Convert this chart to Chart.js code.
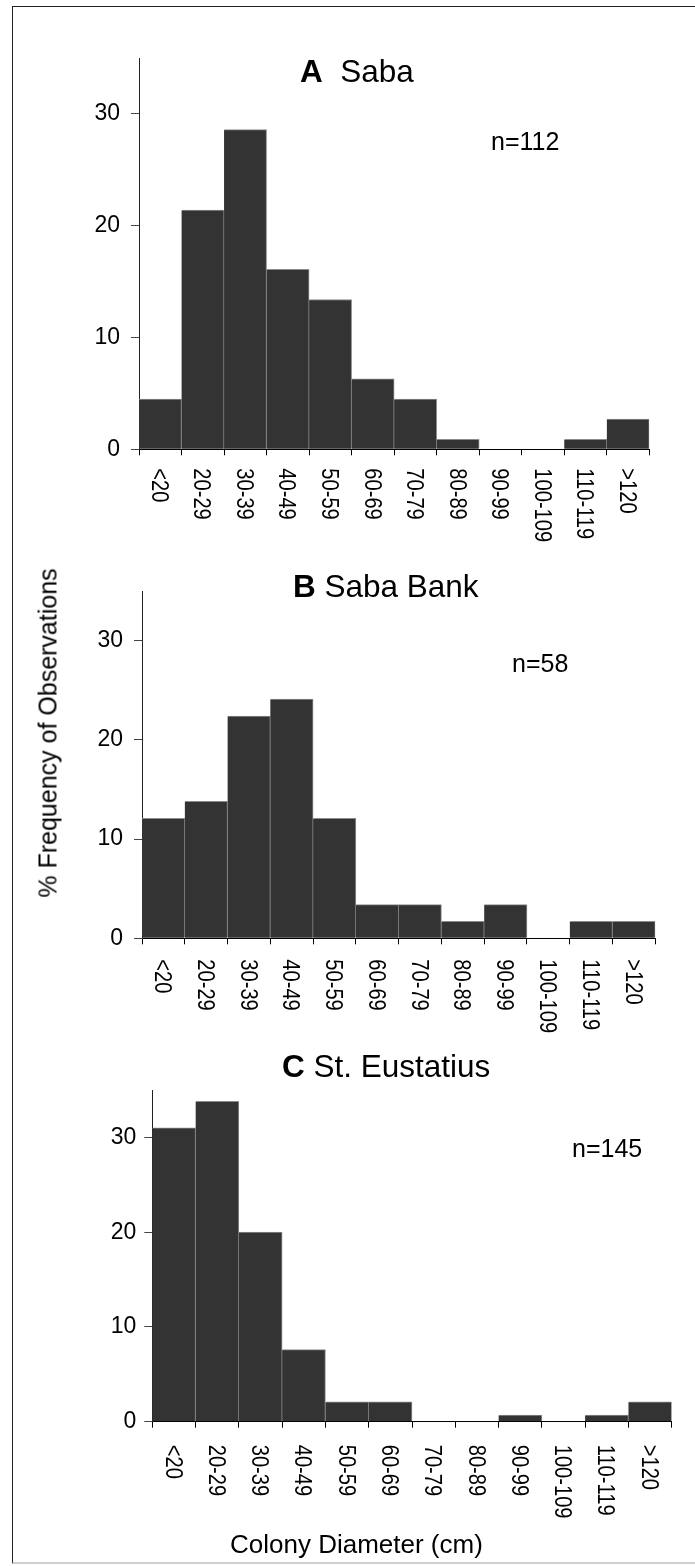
<!DOCTYPE html>
<html>
<head>
<meta charset="utf-8">
<script src="https://cdn.jsdelivr.net/npm/chart.js@4.4.1/dist/chart.umd.min.js"></script>
<style>
  html, body { margin: 0; padding: 0; background: #fff; }
  body {
    width: 695px; height: 1566px; position: relative; overflow: hidden;
    font-family: "Liberation Sans", Arial, sans-serif; color: #000;
  }
  .frame {
    position: absolute; left: 12px; top: 6px; width: 700px; height: 1555px;
    border-left: 1px solid #222; border-top: 1px solid #222; border-bottom: 2px solid #cfcfcf;
  }
  canvas { position: absolute; left: 0; }
  .txt { position: absolute; white-space: nowrap; line-height: 1; }
  .ttl { font-size: 31.5px; }
  .n { font-size: 25px; }
  .ytitle {
    font-size: 25px; left: 48px; top: 733px;
    transform: translate(-50%, -50%) rotate(-90deg);
  }
  .xtitle { font-size: 26px; left: 230px; top: 1531px; }
</style>
</head>
<body>
<div class="frame"></div>

<canvas id="chartA"></canvas>
<canvas id="chartB"></canvas>
<canvas id="chartC"></canvas>

<!-- titoli e annotazioni -->
<div class="txt ttl" style="left:300px;top:56.3px"><b>A</b>&nbsp;&nbsp;Saba</div>
<div class="txt n" style="left:491px;top:128.8px">n=112</div>
<div class="txt ttl" style="left:293px;top:570.6px"><b>B</b> Saba Bank</div>
<div class="txt n" style="left:512px;top:650.5px">n=58</div>
<div class="txt ttl" style="left:282px;top:1050.6px"><b>C</b> St. Eustatius</div>
<div class="txt n" style="left:572px;top:1135.5px">n=145</div>
<div class="txt ytitle">% Frequency of Observations</div>
<div class="txt xtitle">Colony Diameter (cm)</div>

<script>
// size classes (cm)
const sizeClasses = ['<20', '20-29', '30-39', '40-49', '50-59', '60-69',
                     '70-79', '80-89', '90-99', '100-109', '110-119', '>120'];

// % frequency per site
const sabaPct      = [4.5, 21.4, 28.6, 16.1, 13.4, 6.3, 4.5, 0.9, 0, 0, 0.9, 2.7];
const sabaBankPct  = [12.1, 13.8, 22.4, 24.1, 12.1, 3.4, 3.4, 1.7, 3.4, 0, 1.7, 1.7];
const eustatiusPct = [31.0, 33.8, 20.0, 7.6, 2.1, 2.1, 0, 0, 0.7, 0, 0.7, 2.1];

const yTicks = [0, 10, 20, 30];
const yMax = 35;

const FONT = '"Liberation Sans", Arial, sans-serif';

// x labels rotated clockwise (Chart.js only rotates the other way)
const verticalTicks = {
  id: 'verticalTicks',
  afterDraw(chart, args, opts) {
    const xs = chart.scales.x;
    const ctx = chart.ctx;
    ctx.save();
    ctx.fillStyle = '#000';
    ctx.font = '23px ' + FONT;
    ctx.textAlign = 'left';
    ctx.textBaseline = 'middle';
    chart.data.labels.forEach((lab, i) => {
      ctx.save();
      ctx.translate(xs.getPixelForValue(i) - 2, chart.chartArea.bottom + opts.gap);
      ctx.rotate(Math.PI / 2);
      ctx.scale(0.875, 1);
      ctx.fillText(lab, 0, 0);
      ctx.restore();
    });
    ctx.restore();
  }
};

const panels = [
  { id: 'chartA', values: sabaPct, top: 0, height: 560,
    area: { left: 139, right: 649.3, top: 58, bottom: 449.3 }, tickPad: 11, gap: 19 },
  { id: 'chartB', values: sabaBankPct, top: 560, height: 480,
    area: { left: 142, right: 655.3, top: 591, bottom: 938.3 }, tickPad: 11, gap: 21 },
  { id: 'chartC', values: eustatiusPct, top: 1040, height: 526,
    area: { left: 152.3, right: 671.7, top: 1090, bottom: 1421.7 }, tickPad: 8, gap: 23 },
];

const X_AXIS_H = 8;

panels.forEach((p) => {
  const canvas = document.getElementById(p.id);
  canvas.width = 695;
  canvas.height = p.height;
  canvas.style.top = p.top + 'px';

  new Chart(canvas, {
    type: 'bar',
    data: {
      labels: sizeClasses,
      datasets: [{
        data: p.values,
        backgroundColor: '#333333',
        borderColor: '#8c8c8c',
        borderWidth: { top: 1, right: 1, left: 0, bottom: 0 },
        borderSkipped: 'bottom',
        barPercentage: 1,
        categoryPercentage: 1,
      }],
    },
    options: {
      responsive: false,
      animation: false,
      devicePixelRatio: 1,
      layout: {
        padding: {
          left: 0,
          right: 695 - p.area.right,
          top: p.area.top - p.top,
          bottom: p.top + p.height - p.area.bottom - X_AXIS_H,
        },
      },
      plugins: {
        legend: { display: false },
        tooltip: { enabled: false },
        verticalTicks: { gap: p.gap },
      },
      scales: {
        x: {
          grid: { offset: true, drawOnChartArea: false, tickLength: 6, color: '#000', lineWidth: 1 },
          border: { color: '#000', width: 1 },
          ticks: { display: false },
          afterFit: (s) => { s.height = X_AXIS_H; },
        },
        y: {
          min: 0,
          max: yMax,
          grid: { drawOnChartArea: false, tickLength: 8, color: '#444' },
          border: { color: '#222', width: 1 },
          ticks: { padding: p.tickPad, color: '#000', font: { family: FONT, size: 23 } },
          afterBuildTicks: (s) => { s.ticks = yTicks.map((v) => ({ value: v })); },
          afterFit: (s) => { s.width = p.area.left; },
        },
      },
    },
    plugins: [verticalTicks],
  });
});
</script>
</body>
</html>
